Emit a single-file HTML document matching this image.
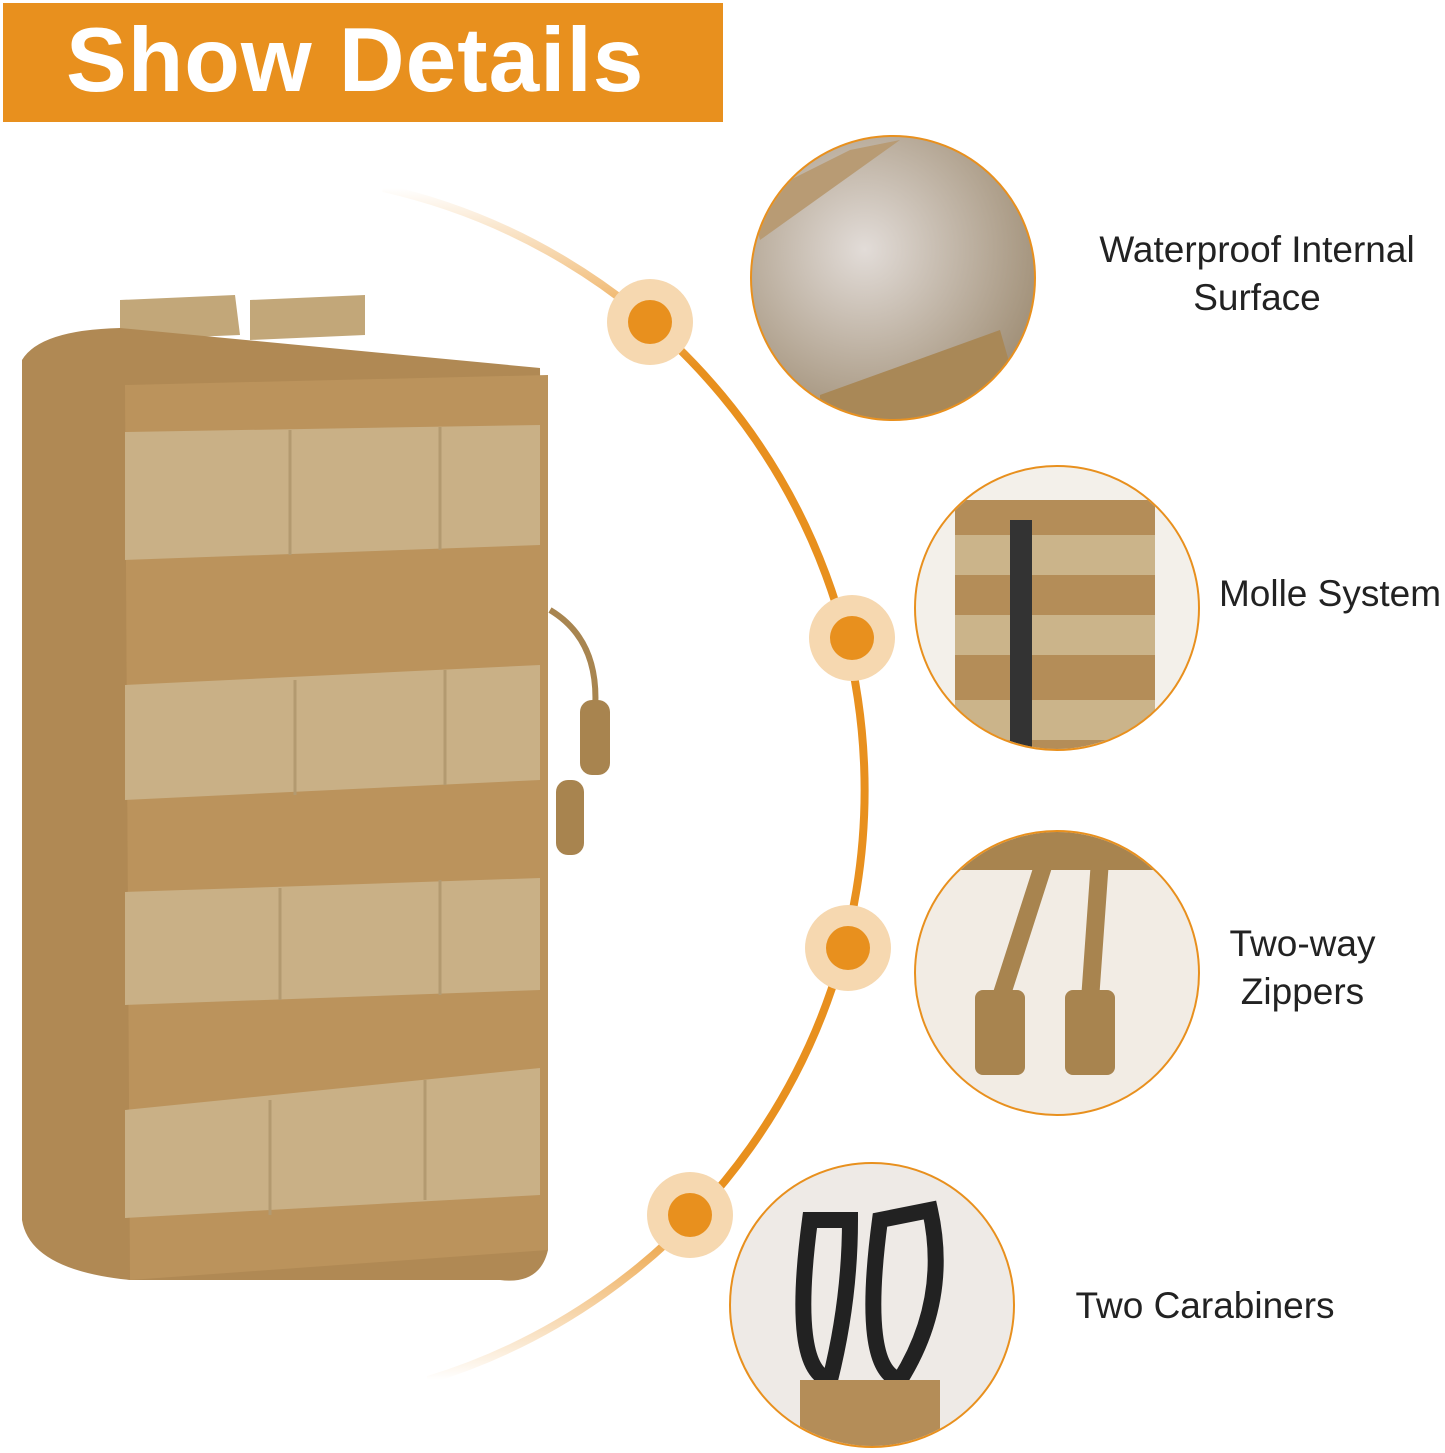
<!DOCTYPE html>
<html><head><meta charset="utf-8"><style>
html,body{margin:0;padding:0;background:#fff;}
body{width:1445px;height:1453px;position:relative;overflow:hidden;font-family:"Liberation Sans",sans-serif;}
.banner{position:absolute;left:3px;top:3px;width:720px;height:119px;background:#E8901E;}
.banner span{position:absolute;left:63px;top:6px;color:#fff;font-weight:bold;font-size:91px;letter-spacing:1px;}
.lbl{position:absolute;color:#222;font-size:37px;text-align:center;line-height:48px;white-space:nowrap;}
</style></head><body>
<div class="banner"><span>Show Details</span></div>
<svg width="1445" height="1453" style="position:absolute;left:0;top:0">
<defs>
<linearGradient id="g" x1="0" y1="188" x2="0" y2="1380" gradientUnits="userSpaceOnUse">
<stop offset="0" stop-color="#E8901E" stop-opacity="0"/>
<stop offset="0.15" stop-color="#E8901E"/>
<stop offset="0.85" stop-color="#E8901E"/>
<stop offset="1" stop-color="#E8901E" stop-opacity="0"/>
</linearGradient>
<radialGradient id="c1" cx="0.4" cy="0.4" r="0.7"><stop offset="0" stop-color="#e2dcd8"/><stop offset="1" stop-color="#9c8a70"/></radialGradient>
<clipPath id="k1"><circle cx="893" cy="278" r="141"/></clipPath>
<clipPath id="k2"><circle cx="1057" cy="608" r="141"/></clipPath>
<clipPath id="k3"><circle cx="1057" cy="973" r="141"/></clipPath>
<clipPath id="k4"><circle cx="872" cy="1305" r="141"/></clipPath>
</defs>
<path d="M383 188 A617 617 0 0 1 428 1380" fill="none" stroke="url(#g)" stroke-width="8"/>
<g fill="#F6D8B0"><circle cx="650" cy="322" r="43"/><circle cx="852" cy="638" r="43"/><circle cx="848" cy="948" r="43"/><circle cx="690" cy="1215" r="43"/></g>
<g fill="#E8901E"><circle cx="650" cy="322" r="22"/><circle cx="852" cy="638" r="22"/><circle cx="848" cy="948" r="22"/><circle cx="690" cy="1215" r="22"/></g>
<!-- pouch -->
<polygon points="120,300 235,295 240,335 120,340" fill="#c2a779"/>
<polygon points="250,300 365,295 365,335 250,340" fill="#c2a779"/>
<path d="M22 360 Q40 330 120 328 L540 368 L548 1250 Q540 1285 500 1280 L130 1280 Q30 1270 22 1220 Z" fill="#b08954"/>
<path d="M125 385 L548 375 L548 1250 L130 1280 Z" fill="#bb935c"/>
<g fill="#c9b086">
<polygon points="125,432 540,425 540,545 125,560"/>
<polygon points="125,685 540,665 540,780 125,800"/>
<polygon points="125,892 540,878 540,990 125,1005"/>
<polygon points="125,1110 540,1068 540,1195 125,1218"/>
</g>
<g stroke="#b39a70" stroke-width="3"><line x1="290" y1="430" x2="290" y2="555"/><line x1="440" y1="427" x2="440" y2="550"/>
<line x1="295" y1="680" x2="295" y2="795"/><line x1="445" y1="670" x2="445" y2="785"/>
<line x1="280" y1="888" x2="280" y2="1000"/><line x1="440" y1="880" x2="440" y2="995"/>
<line x1="270" y1="1100" x2="270" y2="1215"/><line x1="425" y1="1080" x2="425" y2="1200"/></g>
<path d="M550 610 Q600 640 595 710" stroke="#a88550" stroke-width="6" fill="none"/>
<rect x="580" y="700" width="30" height="75" rx="12" fill="#a8844f"/>
<rect x="556" y="780" width="28" height="75" rx="12" fill="#a8844f"/>
<!-- circles -->
<circle cx="893" cy="278" r="142" fill="url(#c1)"/>
<circle cx="1057" cy="608" r="142" fill="#f3f0ea"/>
<circle cx="1057" cy="973" r="142" fill="#f2ece4"/>
<circle cx="872" cy="1305" r="142" fill="#eeeae6"/>
<g clip-path="url(#k1)"><polygon points="820,395 1000,330 1020,400 900,430 820,430" fill="#a98857"/><polygon points="750,200 850,150 900,140 760,240" fill="#b89b74"/></g>
<g clip-path="url(#k2)"><rect x="955" y="500" width="200" height="260" fill="#b48d58"/>
<g fill="#cbb48a"><rect x="955" y="535" width="200" height="40"/><rect x="955" y="615" width="200" height="40"/><rect x="955" y="700" width="200" height="40"/></g>
<rect x="1010" y="520" width="22" height="240" fill="#333"/></g>
<g clip-path="url(#k3)"><rect x="900" y="830" width="320" height="40" fill="#a8844f"/>
<path d="M1045 860 L1000 1000 M1100 860 L1090 1000" stroke="#a8844f" stroke-width="18" fill="none"/>
<rect x="975" y="990" width="50" height="85" rx="8" fill="#a8844f"/>
<rect x="1065" y="990" width="50" height="85" rx="8" fill="#a8844f"/></g>
<g clip-path="url(#k4)"><path d="M810 1220 Q790 1370 830 1380 Q850 1300 850 1220 Z" fill="none" stroke="#222" stroke-width="16"/>
<path d="M880 1220 Q860 1370 900 1380 Q950 1300 930 1210 Z" fill="none" stroke="#222" stroke-width="16"/>
<rect x="800" y="1380" width="140" height="80" fill="#b48d58"/></g>
<g stroke="#E8901E" stroke-width="2" fill="none">
<circle cx="893" cy="278" r="142"/><circle cx="1057" cy="608" r="142"/><circle cx="1057" cy="973" r="142"/><circle cx="872" cy="1305" r="142"/>
</g>
</svg>
<div class="lbl" style="left:1087px;top:226px;width:340px;">Waterproof Internal<br>Surface</div>
<div class="lbl" style="left:1215px;top:570px;width:230px;">Molle System</div>
<div class="lbl" style="left:1200px;top:920px;width:205px;">Two-way<br>Zippers</div>
<div class="lbl" style="left:1070px;top:1282px;width:270px;">Two Carabiners</div>
</body></html>
